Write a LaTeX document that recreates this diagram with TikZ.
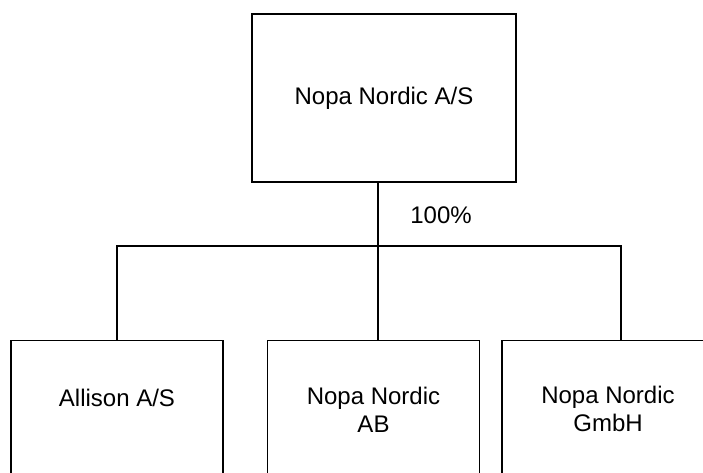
\documentclass[tikz,border=0pt]{standalone}
\usepackage{fontspec}
\setmainfont{Liberation Sans}
\usepackage{tikz}
\usepackage{xcolor}

\begin{document}
\begin{tikzpicture}[x=1pt, y=-1pt, line width=1.2pt,
  font=\fontsize{24}{28}\selectfont,
  entity/.style={rectangle, draw=black, align=center, inner sep=0pt},
  unit/.style={entity, anchor=north, minimum width=212pt, text height=66pt, text depth=160pt}]
\clip (0,0) rectangle (703,473);
\node[entity, minimum width=264pt, minimum height=168pt] (parent) at (384,98) {Nopa Nordic A/S};
\node[unit] (allison) at (117,340) {Allison A/S};
\node[unit, text height=92pt] (nordicab) at (373.5,340) {Nopa Nordic\\AB};
\node[unit, text height=91pt] (nordicgmbh) at (608,340) {Nopa Nordic\\GmbH};
\node (share) at (441,215) {100\%};
\coordinate (bus) at (378,246);
\draw (parent.south -| bus) -- (bus);
\draw (allison.north) |- (bus) -| ([xshift=13pt]nordicgmbh.north);
\draw (bus) -- (bus |- nordicab.north);
\end{tikzpicture}
\end{document}
